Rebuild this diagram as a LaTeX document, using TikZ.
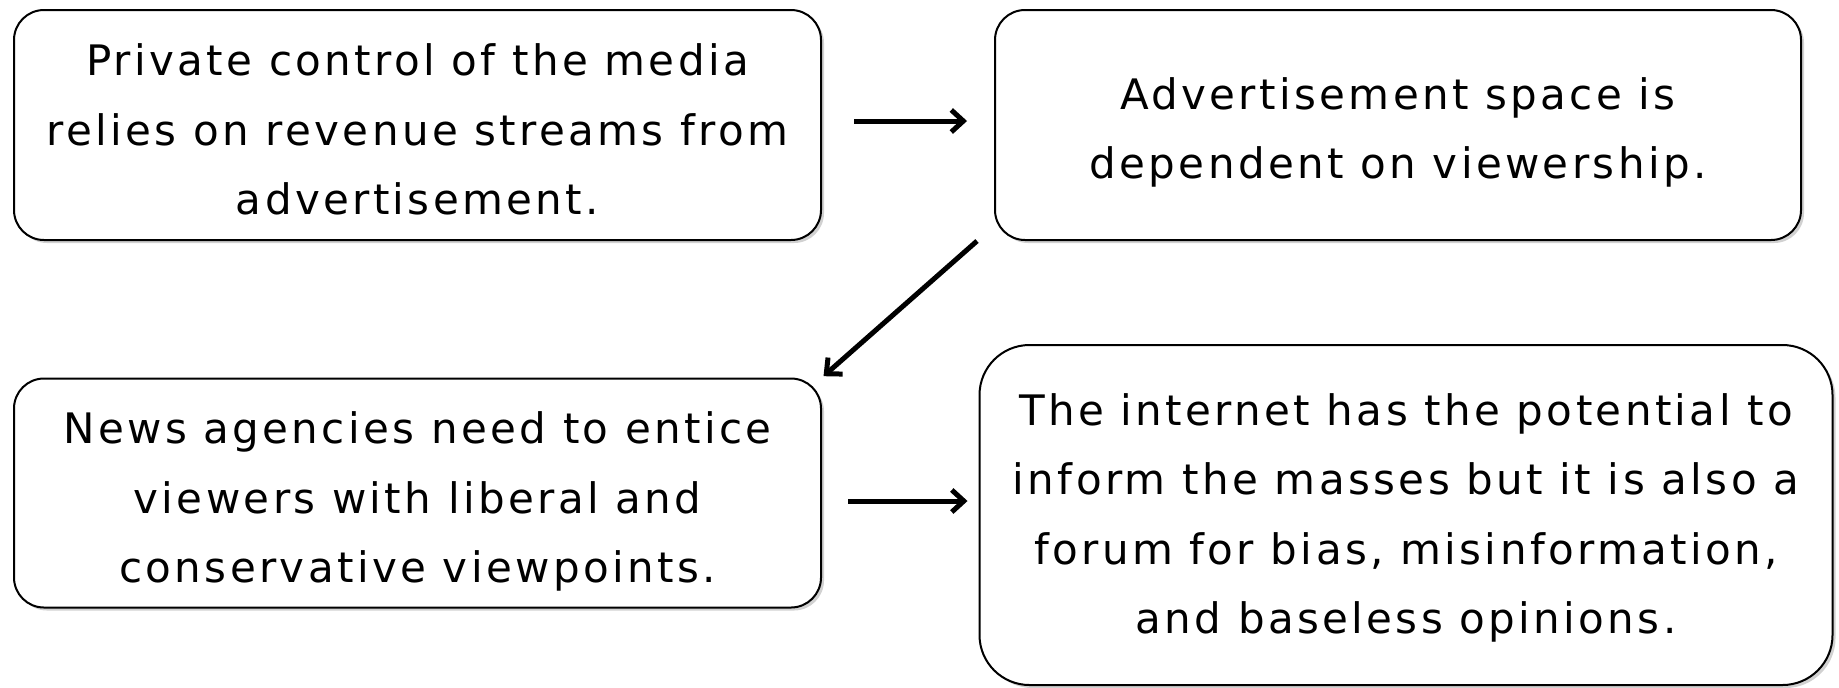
\documentclass[tikz,border=0pt]{standalone}
\usepackage{fontspec}
\setmainfont{DejaVu Sans}[LetterSpace=8]
\usetikzlibrary{arrows.meta,shadows}
\newcommand{\bxtext}[2]{\raisebox{#1}[0pt][0pt]{\begin{tabular}{@{}c@{}}#2\end{tabular}}}
\begin{document}
\begin{tikzpicture}[x=0.5pt,y=-0.5pt,
  box/.style={draw, line width=1pt, rounded corners=15pt, fill=white,
    font=\fontsize{21}{34.8}\selectfont, inner sep=0pt,
    drop shadow={shadow xshift=1.5pt, shadow yshift=-1.5pt, fill=black, opacity=0.18}},
  arr/.style={line width=2.5pt, -{Straight Barb[length=6pt,width=11pt]}}]
\useasboundingbox (0,0) rectangle (1839,687);
\node[box, minimum width=403.5pt, minimum height=115pt] (b1) at (417.5,125)
  {\bxtext{-8.25pt}{Private control of the media\\relies on revenue streams from\\advertisement.}};
\node[box, minimum width=403pt, minimum height=115pt] (b2) at (1398,125)
  {\bxtext{-7.75pt}{Advertisement space is\\dependent on viewership.}};
\node[box, minimum width=403.5pt, minimum height=114.5pt] (b3) at (417.5,493)
  {\bxtext{-8.25pt}{News agencies need to entice\\viewers with liberal and\\conservative viewpoints.}};
\node[box, rounded corners=25pt, minimum width=426.5pt, minimum height=170pt] (b4) at (1406,515)
  {\bxtext{-5.5pt}{The internet has the potential to\\inform the masses but it is also a\\forum for bias, misinformation,\\and baseless opinions.}};
\draw[arr, shorten <=16pt, shorten >=13.5pt] ([yshift=2pt]b1.east) -- ([yshift=2pt]b2.west);
\draw[arr, shorten >=1pt] ([xshift=-8.5pt]b2.south west) -- (b3.north east);
\draw[arr, shorten <=13pt, shorten >=5.5pt] ([yshift=-4pt]b3.east) -- ([yshift=-4pt]b3.east -| b4.west);
\end{tikzpicture}
\end{document}
